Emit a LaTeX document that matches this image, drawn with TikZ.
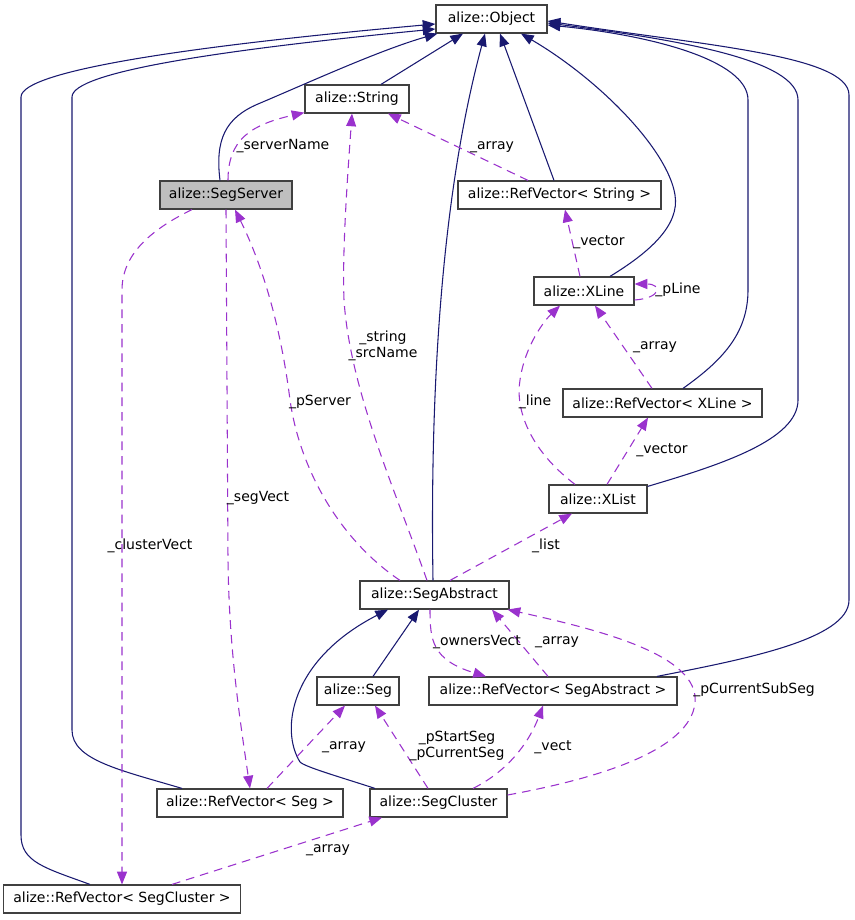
\documentclass[tikz,border=0pt]{standalone}
\usepackage{fontspec}
\setmainfont{DejaVu Sans}
\usepackage{tikz}
\usetikzlibrary{arrows.meta, calc}
\definecolor{inhblue}{RGB}{25, 25, 112}
\definecolor{usepurple}{RGB}{154, 50, 205}
\definecolor{boxgray}{RGB}{191, 191, 191}
\definecolor{boxline}{RGB}{64, 64, 64}
\tikzstyle{cls} = [rectangle, draw=boxline, fill=white, minimum height=21pt, inner sep=0pt, line width=0.9pt]
\tikzstyle{inh} = [-{Triangle[length=9.5pt, width=7.5pt]}, draw=inhblue, fill=none, line width=0.8pt]
\tikzstyle{use} = [-{Triangle[length=9.5pt, width=7.5pt]}, draw=usepurple, dash pattern=on 6.5pt off 4.5pt, line width=0.8pt]
\tikzstyle{lbl} = [inner sep=0pt, align=center]

\begin{document}
\begin{tikzpicture}[x=0.75pt, y=-0.75pt, font=\fontsize{10.5}{12}\selectfont]
    \useasboundingbox (0,0) rectangle (855,920);

    % Classes
    \node[cls, minimum width=83.25pt] (object) at (491.5,19) {alize::Object};
    \node[cls, minimum width=78pt] (string) at (357,99) {alize::String};
    \node[cls, minimum width=99pt, fill=boxgray] (segserver) at (226,195) {alize::SegServer};
    \node[cls, minimum width=152.25pt] (rvstring) at (559.5,195) {alize::RefVector< String >};
    \node[cls, minimum width=75pt] (xline) at (584,291) {alize::XLine};
    \node[cls, minimum width=149.25pt] (rvxline) at (662.5,403) {alize::RefVector< XLine >};
    \node[cls, minimum width=73.5pt] (xlist) at (598,499) {alize::XList};
    \node[cls, minimum width=111.75pt] (segabstract) at (434.5,595) {alize::SegAbstract};
    \node[cls, minimum width=61.5pt] (seg) at (358,691) {alize::Seg};
    \node[cls, minimum width=186pt] (rvsegabstract) at (553,691) {alize::RefVector< SegAbstract >};
    \node[cls, minimum width=139.5pt] (rvseg) at (250,803) {alize::RefVector< Seg >};
    \node[cls, minimum width=102.75pt] (segcluster) at (438.5,803) {alize::SegCluster};
    \node[cls, minimum width=177.75pt] (rvsegcluster) at (122,899) {alize::RefVector< SegCluster >};

    % Inheritance
    \draw[inh] ($(rvsegcluster.north)+(-32,0)$) .. controls (45,868) and (21,862) .. (21,835) -- (21,97) .. controls (21,70) and (200,45) .. ($(object.west)+(0,5)$);
    \draw[inh] ($(rvseg.north)+(-68,0)$) .. controls (120,770) and (72,760) .. (72,730) -- (72,97) .. controls (72,72) and (220,50) .. ($(object.west)+(0,10)$);
    \draw[inh] ($(segserver.north)+(-6,0)$) .. controls (215,140) and (225,118) .. (258,104) .. controls (310,82) and (380,50) .. ($(object.south west)+(2,0)$);
    \draw[inh] ($(string.north)+(24,0)$) -- ($(object.south)+(-28.5,0)$);
    \draw[inh] ($(segabstract.north)+(-1.5,0)$) .. controls (430,400) and (440,200) .. ($(object.south)+(-6.5,0)$);
    \draw[inh] ($(rvstring.north)+(-5.5,0)$) -- ($(object.south)+(8.5,0)$);
    \draw[inh] ($(xline.north)+(26,0)$) .. controls (650,252) and (680,225) .. (675,195) .. controls (668,150) and (600,80) .. ($(object.south)+(29.5,0)$);
    \draw[inh] ($(rvxline.north)+(20.5,0)$) .. controls (720,362) and (748,335) .. (748,290) -- (748,100) .. controls (748,60) and (650,35) .. ($(object.east)+(0,6)$);
    \draw[inh] ($(xlist.north east)+(0,2)$) .. controls (720,465) and (798,440) .. (798,400) -- (798,100) .. controls (798,60) and (680,40) .. ($(object.east)+(0,4)$);
    \draw[inh] ($(rvsegabstract.north)+(104,0)$) .. controls (740,660) and (849,640) .. (849,600) -- (849,95) .. controls (849,55) and (700,45) .. ($(object.east)+(0,2)$);
    \draw[inh] ($(seg.north)+(15,0)$) -- ($(segabstract.south)+(-15.5,0)$);
    \draw[inh] ($(segcluster.north)+(-63.5,0)$) .. controls (340,777) and (305,767) .. (300,762) .. controls (280,730) and (290,660) .. ($(segabstract.south)+(-46.5,0)$);

    % Usage
    \draw[use] ($(segserver.north)+(2,0)$) .. controls (228,140) and (250,125) .. ($(string.south west)+(0,-1)$);
    \draw[use] ($(segabstract.north)+(-7.5,0)$) .. controls (395,490) and (350,390) .. (344,300) .. controls (342,250) and (348,170) .. ($(string.south)+(-5,0)$);
    \draw[use] ($(rvstring.north)+(-31.5,0)$) -- ($(string.south)+(31,0)$);
    \draw[use] ($(segabstract.north)+(-34.5,0)$) .. controls (340,540) and (300,470) .. (290,400) .. controls (280,320) and (260,260) .. ($(segserver.south)+(9,0)$);
    \draw[use] (segserver.south) -- (228,560) .. controls (229,650) and (240,720) .. (rvseg.north);
    \draw[use] ($(segserver.south)+(-34,0)$) .. controls (150,230) and (122,255) .. (122,290) -- (rvsegcluster.north);
    \draw[use] ($(xline.north)+(-4,0)$) -- ($(rvstring.south)+(5.5,0)$);
    \draw[use] ($(xline.east)+(0,9)$) .. controls (662,298) and (662,284) .. ($(xline.east)+(0,-7)$);
    \draw[use] ($(rvxline.north)+(-10.5,0)$) -- ($(xline.south)+(11,0)$);
    \draw[use] ($(xlist.north)+(-23,0)$) .. controls (530,450) and (515,410) .. (520,380) .. controls (525,345) and (545,320) .. ($(xline.south)+(-24,0)$);
    \draw[use] ($(xlist.north)+(9,0)$) -- ($(rvxline.south)+(-14.5,0)$);
    \draw[use] ($(segabstract.north)+(15.5,0)$) -- ($(xlist.south)+(-26,0)$);
    \draw[use] ($(segabstract.south)+(-4.5,0)$) .. controls (430,640) and (432,660) .. ($(rvsegabstract.north)+(-67,0)$);
    \draw[use] ($(rvsegabstract.north)+(-5,0)$) -- ($(segabstract.south)+(57.5,0)$);
    \draw[use] ($(segcluster.east)+(0,-8)$) .. controls (600,778) and (690,750) .. (695,703) .. controls (700,655) and (600,630) .. ($(segabstract.south east)+(-2,0)$);
    \draw[use] ($(rvseg.north)+(17,0)$) -- ($(seg.south)+(-13,0)$);
    \draw[use] ($(segcluster.north)+(-10.5,0)$) -- ($(seg.south)+(17,0)$);
    \draw[use] ($(segcluster.north)+(34.5,0)$) .. controls (510,770) and (530,740) .. ($(rvsegabstract.south)+(-10,0)$);
    \draw[use] ($(rvsegcluster.north)+(50,0)$) -- ($(segcluster.south)+(-56.5,0)$);

    % Member names
    \node[lbl] (lservername) at (283,146) {\_serverName};
    \node[lbl] (lstring) at (383,346) {\_string\\\_srcName};
    \node[lbl] (larraystr) at (492,147) {\_array};
    \node[lbl] (lpserver) at (320,402) {\_pServer};
    \node[lbl] (lsegvect) at (258,498) {\_segVect};
    \node[lbl] (lclustervect) at (150,546) {\_clusterVect};
    \node[lbl] (lvectorxl) at (599,242) {\_vector};
    \node[lbl] (lpline) at (678,290) {\_pLine};
    \node[lbl] (larrayxl) at (655,347) {\_array};
    \node[lbl] (lline) at (535,402) {\_line};
    \node[lbl] (lvectorxs) at (662,450) {\_vector};
    \node[lbl] (llist) at (546,546) {\_list};
    \node[lbl] (lownersvect) at (477,642) {\_ownersVect};
    \node[lbl] (larraysa) at (557,642) {\_array};
    \node[lbl] (lsubseg) at (754,690) {\_pCurrentSubSeg};
    \node[lbl] (larrayseg) at (344,747) {\_array};
    \node[lbl] (lstartseg) at (457,746) {\_pStartSeg\\\_pCurrentSeg};
    \node[lbl] (lvect) at (553,747) {\_vect};
    \node[lbl] (larraysc) at (328,850) {\_array};
\end{tikzpicture}
\end{document}
